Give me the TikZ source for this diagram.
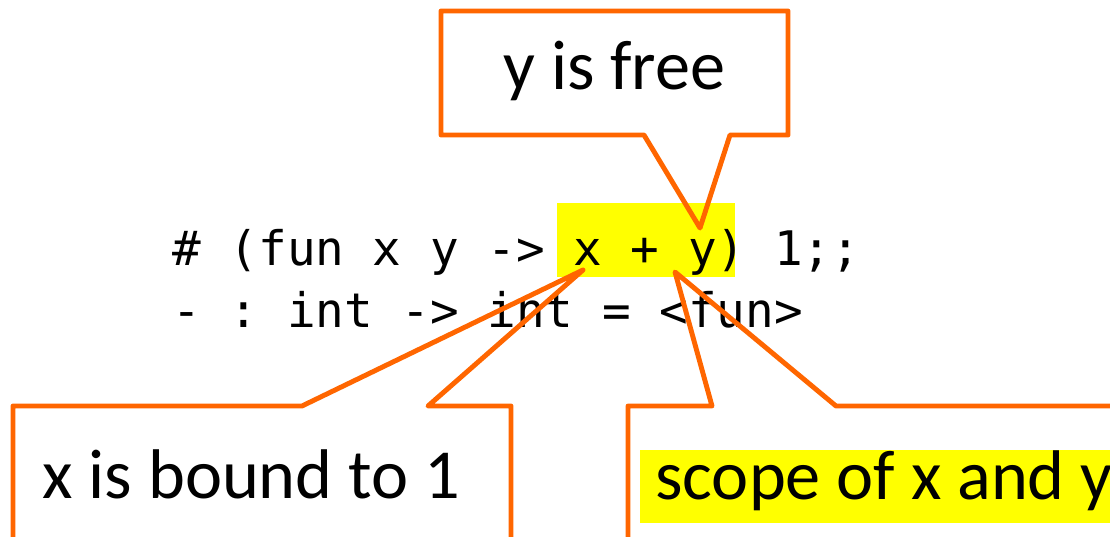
\documentclass[tikz,border=0pt]{standalone}
\usepackage{fontspec}
\setmainfont{Carlito}
\setmonofont{DejaVu Sans Mono}
\usepackage{xcolor}
\definecolor{calloutorange}{RGB}{255,102,0}
\definecolor{hlyellow}{RGB}{255,255,0}

\begin{document}
\begin{tikzpicture}[x=0.02cm,y=-0.02cm,
    callout/.style={draw=calloutorange,line width=2.8pt,line join=round},
    note/.style={font=\fontsize{40}{48}\selectfont,inner sep=0pt,anchor=base west},
    codeline/.style={font=\ttfamily\fontsize{27.1}{32}\selectfont,inner sep=0pt,anchor=base west}]
    \path[use as bounding box,clip] (0,0) rectangle (1110,537);
    % highlighted body of the function
    \fill[hlyellow] (557,203) rectangle (735,277);
    \node[codeline] (line1) at (172,265) {\# (fun x y -> x + y) 1;;};
    \node[codeline] (line2) at (172,327) {- : int -> int = <fun>};
    \coordinate (ytip) at (700,228);
    \coordinate (xtip) at (583,270);
    \coordinate (bodytip) at (675,272);
    \node[note] (free) at (503,90) {y is free};
    \node[note] (bound) at (42,498) {x is bound to 1};
    \node[note,fill=hlyellow,inner xsep=0.3cm,text height=0.98cm,text depth=0.48cm] (scope) at (640,499) {scope of x and y};
    \draw[callout] (441,11) -- (788,11) -- (788,135) -- (730,135) -- (ytip) -- (644,135) -- (441,135) -- cycle;
    \draw[callout] (13,560) -- (13,406) -- (302,406) -- (xtip) -- (428,406) -| (511,560);
    \draw[callout] (628,560) |- (712,406) -- (bodytip) -- (836,406) -- (1130,406);
\end{tikzpicture}
\end{document}
